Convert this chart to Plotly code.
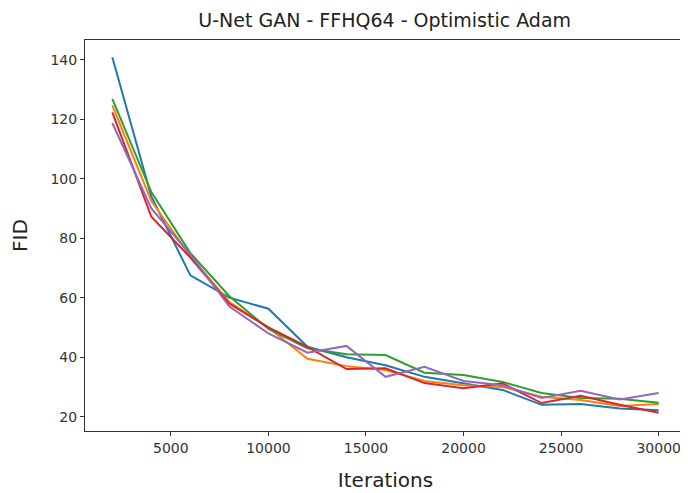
import plotly.graph_objects as go

iterations = [2000, 4000, 6000, 8000, 10000, 12000, 14000, 16000, 18000, 20000,
              22000, 24000, 26000, 28000, 30000]

run_blue = [140.8, 94, 67.5, 60, 56.3, 43.5, 40, 37.3, 33.4, 31.3, 29, 24, 24.3, 22.8, 22.2]
run_orange = [124.6, 92.5, 74, 58.5, 50, 39.5, 37, 35.7, 32, 30.6, 30, 26.7, 25.6, 23.6, 24.3]
run_green = [126.8, 95.5, 75, 60.5, 49.5, 43, 41, 40.7, 34.8, 34, 31.7, 28, 26.3, 26, 24.7]
run_red = [122.3, 87.2, 73.5, 58, 50, 43.5, 36, 36.3, 31.3, 29.6, 31.2, 24.6, 27, 24, 21.3]
run_purple = [118.7, 90, 74.5, 57, 48, 41.5, 43.8, 33.4, 36.8, 32, 30.6, 26.3, 28.7, 25.8, 28]

x_tickvals = [5000, 10000, 15000, 20000, 25000, 30000]
x_ticktext = ["5000", "10000", "15000", "20000", "25000", "30000"]
y_tickvals = [20, 40, 60, 80, 100, 120, 140]

series = [
    (run_blue, "#1f77b4"),
    (run_orange, "#ff7f0e"),
    (run_green, "#2ca02c"),
    (run_red, "#d62728"),
    (run_purple, "#9467bd"),
]

fig = go.Figure()
for vals, col in series:
    fig.add_trace(go.Scatter(x=iterations, y=vals, mode="lines",
                             line=dict(color=col, width=2), showlegend=False))

axis_common = dict(
    showgrid=False, zeroline=False, showline=True, linecolor="#333333",
    linewidth=1, mirror=True, ticks="outside", ticklen=4, tickcolor="#333333",
    tickfont=dict(family="DejaVu Sans", size=14, color="#333333"),
    automargin=False,
)

fig.update_layout(
    width=680, height=485,
    margin=dict(l=77, r=2, t=32, b=62, autoexpand=False),
    paper_bgcolor="white", plot_bgcolor="white",
    title=dict(text="U-Net GAN - FFHQ64 - Optimistic Adam",
               font=dict(family="DejaVu Sans", size=19, color="#222222"),
               x=0.554, xanchor="center", y=0.974, yanchor="middle", automargin=False),
    xaxis=dict(range=[600, 31400], tickvals=x_tickvals, ticktext=x_ticktext,
               title=dict(text="Iterations", font=dict(family="DejaVu Sans", size=20, color="#222222"),
                          standoff=18),
               **axis_common),
    yaxis=dict(range=[15.2, 146.6], tickvals=y_tickvals,
               title=dict(text="FID", font=dict(family="DejaVu Sans", size=20, color="#222222"),
                          standoff=22),
               **axis_common),
)

fig.write_html("out.html")
